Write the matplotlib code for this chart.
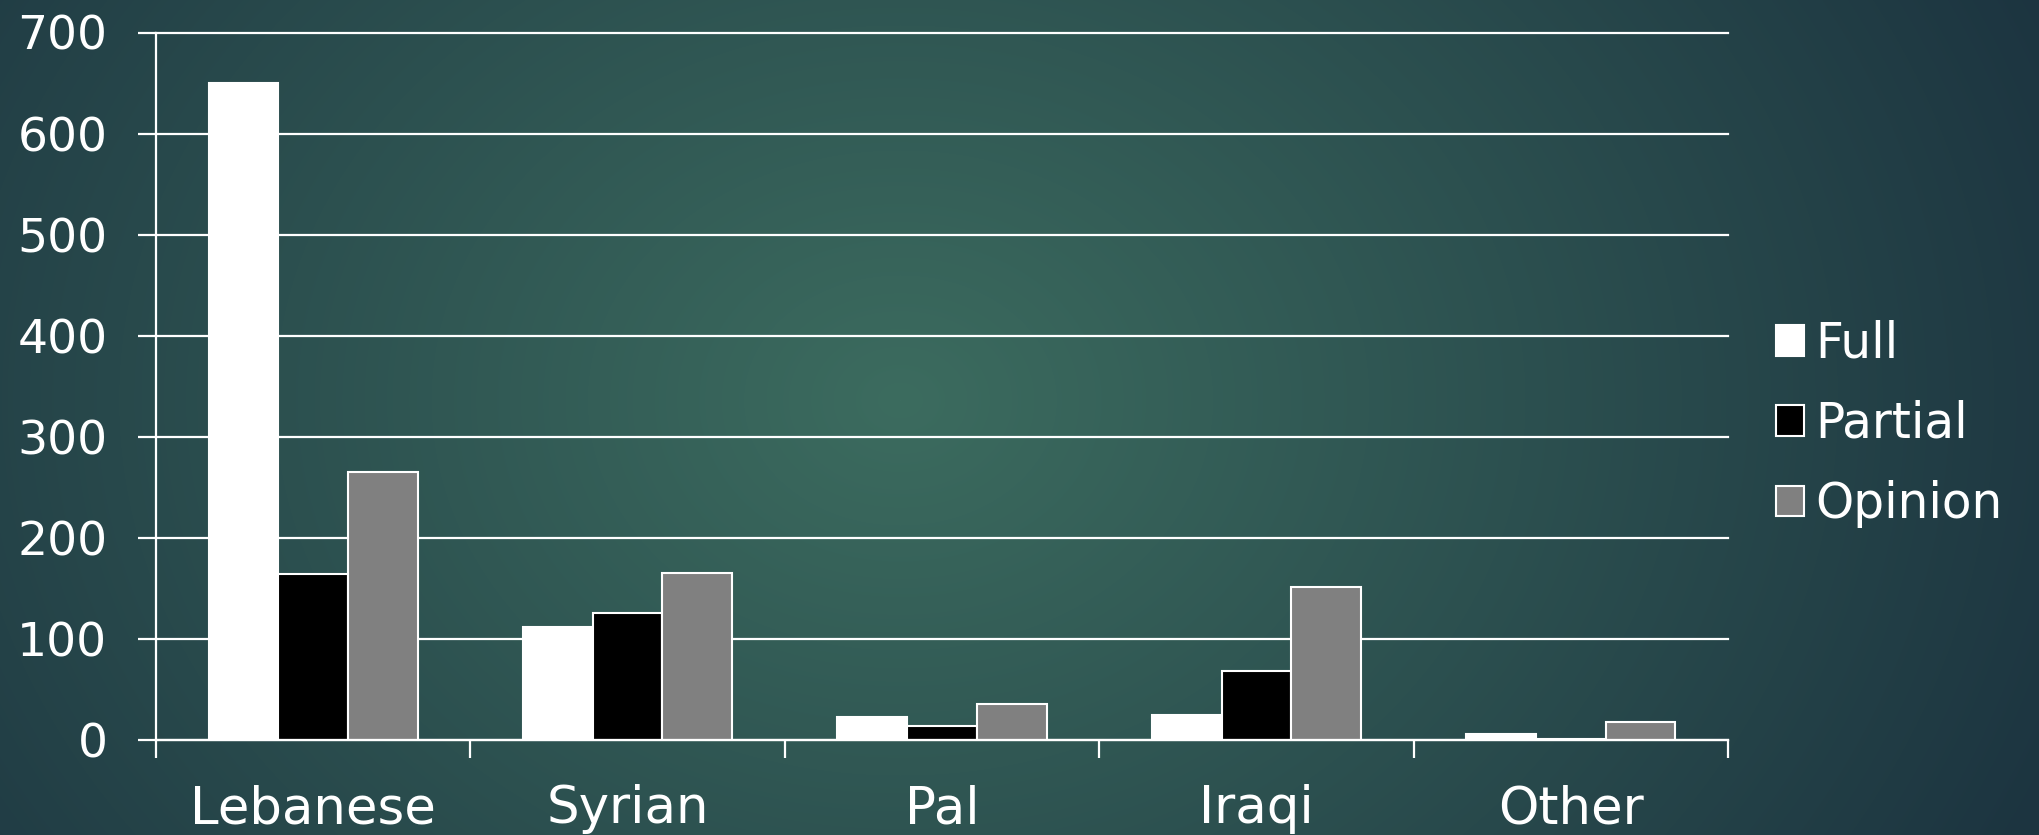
import numpy as np
import matplotlib
matplotlib.use("Agg")
import matplotlib.pyplot as plt
from matplotlib.patches import Patch

categories = ["Lebanese", "Syrian", "Pal", "Iraqi", "Other"]
series_names = ["Full", "Partial", "Opinion"]
full = [650, 112, 23, 25, 6]
partial = [164, 126, 14, 68, 1]
opinion = [265, 165, 36, 151, 18]
y_ticks = [0, 100, 200, 300, 400, 500, 600, 700]

series_values = [full, partial, opinion]
series_colors = ["#ffffff", "#000000", "#808080"]

plt.rcParams["font.family"] = ["DejaVu Sans"]

W, H = 2040, 835
fig = plt.figure(figsize=(W / 100, H / 100), dpi=100)

# background radial gradient
bg = fig.add_axes([0, 0, 1, 1], zorder=-10)
yy, xx = np.mgrid[0:H, 0:W]
d = np.sqrt(((xx - 900) / 1250.0) ** 2 + ((yy - 400) / 1000.0) ** 2)
t = np.clip(d, 0, 1)[..., None]
c_center = np.array([60, 108, 95]) / 255.0
c_edge = np.array([28, 52, 64]) / 255.0
img = c_center * (1 - t) + c_edge * t
bg.imshow(img, aspect="auto", extent=[0, W, H, 0])
bg.axis("off")

ax = fig.add_axes([156 / W, 1 - 740 / H, (1728 - 156) / W, (740 - 32.5) / H])
ax.set_facecolor("none")

x = np.arange(len(categories))
bw = 0.222
for i, (name, vals, col) in enumerate(zip(series_names, series_values, series_colors)):
    ax.bar(x + (i - 1) * bw, vals, width=bw, color=col, edgecolor="white",
           linewidth=1.5, label=name, zorder=3)

ax.set_xlim(-0.5, len(categories) - 0.5)
ax.set_ylim(0, 700)
ax.set_yticks(y_ticks)
ax.set_yticklabels([str(v) for v in y_ticks])
ax.grid(axis="y", color="white", linewidth=1.6, zorder=1)
for gl in ax.get_ygridlines():
    gl.set_clip_on(False)

for s in ["top", "right"]:
    ax.spines[s].set_visible(False)
for s in ["left", "bottom"]:
    ax.spines[s].set_color("white")
    ax.spines[s].set_linewidth(1.6)
    ax.spines[s].set_zorder(4)

ax.set_xticks(x)
ax.set_xticklabels(categories)
ax.set_xticks(np.arange(-0.5, len(categories), 1.0), minor=True)
ax.tick_params(axis="x", which="major", length=0, pad=32, labelsize=37,
               labelcolor="white")
ax.tick_params(axis="x", which="minor", length=13, width=1.6, color="white",
               direction="out")
ax.tick_params(axis="y", length=13, width=1.6, color="white", direction="out",
               pad=22, labelsize=34, labelcolor="white")

handles = [Patch(facecolor=c, edgecolor="white", linewidth=1.5) for c in series_colors]
leg = fig.legend(handles, series_names, loc="center left",
                 bbox_to_anchor=(1776 / W, 1 - 424 / H), frameon=False,
                 fontsize=35, handlelength=0.58, handleheight=0.6,
                 handletextpad=0.23, labelspacing=0.66, borderpad=0,
                 borderaxespad=0)
for txt in leg.get_texts():
    txt.set_color("white")

fig.savefig("out.png", dpi=100)
